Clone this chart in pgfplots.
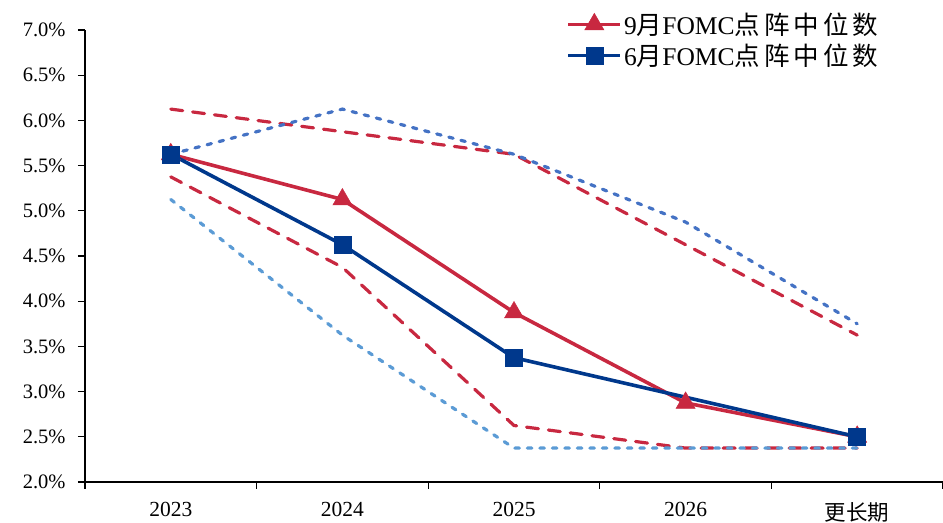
\documentclass[border=0pt]{standalone}
\usepackage{fontspec}
\setmainfont{Liberation Serif}
\newfontfamily\cjk{Noto Sans CJK SC}
\newfontfamily\cjkwide[LetterSpace=16]{Noto Sans CJK SC}
\usepackage{pgfplots}
\pgfplotsset{compat=1.18}
\definecolor{cred}{RGB}{200,40,64}
\definecolor{cnavy}{RGB}{0,56,140}
\definecolor{cblue}{RGB}{68,114,196}
\definecolor{clight}{RGB}{91,155,213}
\begin{document}
\begin{tikzpicture}
\begin{axis}[
  scale only axis, width=858pt, height=452pt,
  xmin=-0.5, xmax=4.5, ymin=2, ymax=7,
  axis x line*=bottom, axis y line*=left,
  axis line style={line width=1.4pt, black},
  tick align=outside,
  major tick length=7pt,
  tick style={black, line width=1.3pt},
  xtick={-0.5,0.5,1.5,2.5,3.5,4.5},
  xticklabels={},
  extra x ticks={0,1,2,3,4},
  extra x tick labels={2023,2024,2025,2026,{\cjk 更长期}},
  extra x tick style={major tick length=0pt},
  ytick={2,2.5,3,3.5,4,4.5,5,5.5,6,6.5,7},
  /pgf/number format/assume math mode=true,
  yticklabel={\pgfmathprintnumber[fixed,fixed zerofill,precision=1]{\tick}\%},
  yticklabel style={font=\fontsize{20.5}{24}\selectfont, text=black, xshift=-9pt},
  xticklabel style={font=\fontsize{21.5}{24}\selectfont, text=black, yshift=-17pt},
  legend style={at={(0.561,1.043)}, anchor=north west, draw=none, fill=none,
    font=\fontsize{25.5}{28}\selectfont, row sep=4pt, inner sep=0pt},
  legend cell align=left,
  legend image code/.code={\draw[mark repeat=2,mark phase=2,#1] plot coordinates {(0pt,0pt)(26pt,0pt)(52pt,0pt)};},
]
% September range (red dashed)
\addplot[cred, line width=3.2pt, line cap=round, dash pattern=on 12pt off 10pt, forget plot]
  coordinates {(0,6.125)(1,5.875)(2,5.625)(3,4.625)(4,3.625)};
\addplot[cred, line width=3.2pt, line cap=round, dash pattern=on 12pt off 10pt, forget plot]
  coordinates {(0,5.375)(1,4.375)(2,2.625)(3,2.375)(4,2.375)};
% June range (blue dotted)
\addplot[cblue, line width=3.2pt, line cap=round, dash pattern=on 4.5pt off 8pt, forget plot]
  coordinates {(0,5.625)(1,6.125)(2,5.625)(3,4.875)(4,3.75)};
\addplot[clight, line width=3.2pt, line cap=round, dash pattern=on 4.5pt off 8pt, forget plot]
  coordinates {(0,5.125)(1,3.625)(2,2.375)(3,2.375)(4,2.375)};
% medians
\addplot[cred, line width=3.6pt, mark=triangle*, mark size=11pt,
  mark options={solid, fill=cred, draw=cred, line width=0.5pt}]
  coordinates {(0,5.625)(1,5.125)(2,3.875)(3,2.875)(4,2.5)};
\addlegendentry{9{\cjkwide 月}FOMC{\cjkwide 点阵中位数}}
\addplot[cnavy, line width=3.6pt, mark=square*, mark size=8.5pt,
  mark options={solid, fill=cnavy, draw=cnavy, line width=0.5pt}]
  coordinates {(0,5.625)(1,4.625)(2,3.375)(4,2.5)};
\addlegendentry{6{\cjkwide 月}FOMC{\cjkwide 点阵中位数}}
\end{axis}
\pgfresetboundingbox
\path ([shift={(-85pt,-41pt)}]current axis.south west) rectangle ([shift={(0pt,30pt)}]current axis.north east);
\end{tikzpicture}
\end{document}
